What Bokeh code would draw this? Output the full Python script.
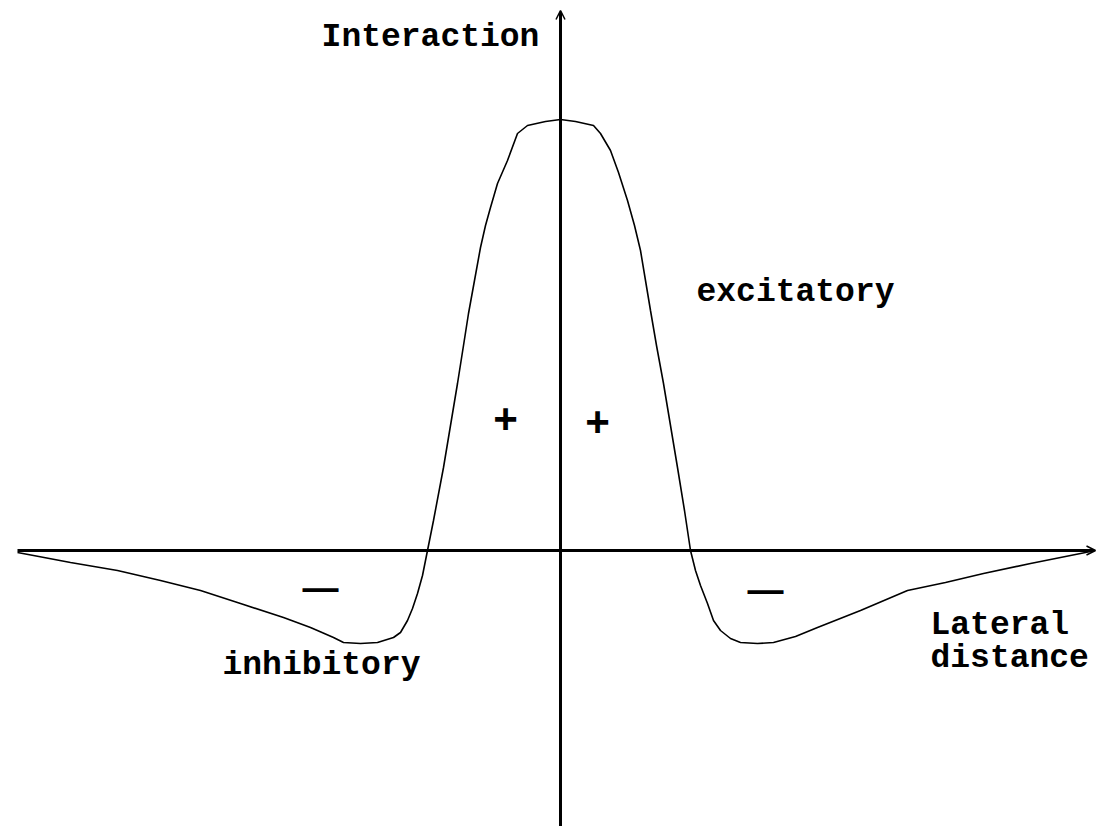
from bokeh.plotting import figure
from bokeh.models import Range1d, Arrow, OpenHead
from bokeh.core.properties import value
from bokeh.embed import file_html
from bokeh.resources import INLINE

# Lateral distance (x) and interaction strength (y) of the "Mexican hat" curve
lateral = [-5.43, -5.27, -4.90, -4.43, -4.00, -3.60, -3.20, -2.77, -2.50, -2.27,
           -2.17, -2.00, -1.83, -1.67, -1.60, -1.53, -1.48, -1.43, -1.38, -1.33,
           -1.27, -1.17, -1.10, -1.03, -0.97, -0.92, -0.86, -0.80, -0.75, -0.70,
           -0.63, -0.53, -0.43, -0.33, -0.15, 0.00,
           0.15, 0.33, 0.40, 0.50, 0.58, 0.67, 0.74, 0.80, 0.85, 0.90,
           0.96, 1.03, 1.10, 1.17, 1.24, 1.30, 1.35, 1.40, 1.47, 1.53,
           1.60, 1.70, 1.80, 1.97, 2.13, 2.35, 2.57, 3.00, 3.47, 3.85,
           4.23, 4.70, 5.20, 5.30]
interaction = [-0.02, -0.05, -0.12, -0.20, -0.30, -0.40, -0.53, -0.67, -0.77, -0.87,
               -0.92, -0.93, -0.92, -0.87, -0.82, -0.70, -0.58, -0.43, -0.25, 0.00,
               0.30, 0.83, 1.25, 1.67, 2.05, 2.37, 2.70, 3.03, 3.25, 3.43,
               3.67, 3.90, 4.17, 4.25, 4.29, 4.31,
               4.29, 4.25, 4.17, 4.00, 3.78, 3.50, 3.25, 3.00, 2.70, 2.40,
               2.05, 1.67, 1.25, 0.83, 0.40, 0.00, -0.20, -0.35, -0.53, -0.70,
               -0.80, -0.88, -0.92, -0.93, -0.92, -0.86, -0.77, -0.60, -0.40, -0.32,
               -0.23, -0.13, -0.03, -0.01]

# Annotation labels
label_text = ["Interaction", "excitatory", "inhibitory"]
label_x = [-1.30, 2.35, -2.39]
label_y = [5.13, 2.58, -1.15]

sign_text = ["+", "+", "\u2014", "\u2014"]
sign_x = [-0.55, 0.37, -2.40, 2.05]
sign_y = [1.32, 1.29, -0.37, -0.39]

axis_text = ["Lateral", "distance"]
axis_x = [3.70, 3.70]
axis_y = [-0.75, -1.08]

W, H = 1105, 826
p = figure(width=W, height=H, output_backend="svg", toolbar_location=None,
           x_range=Range1d(-5.60, 5.45), y_range=Range1d(-2.76, 5.50),
           min_border=0, min_border_left=0, min_border_right=0,
           min_border_top=0, min_border_bottom=0)
p.axis.visible = False
p.grid.visible = False
p.outline_line_color = None
p.background_fill_color = "white"
p.border_fill_color = "white"

# axes with arrows
p.add_layout(Arrow(end=OpenHead(size=9, line_width=1.5, line_color="black"),
                   x_start=0, y_start=-2.80, x_end=0, y_end=5.40,
                   line_width=3, line_color="black"))
p.add_layout(Arrow(end=OpenHead(size=9, line_width=1.5, line_color="black"),
                   x_start=-5.43, y_start=0, x_end=5.35, y_end=0,
                   line_width=3, line_color="black"))

p.line(lateral, interaction, line_color="black", line_width=1.6)

font = value("Liberation Mono")
p.text(x=label_x, y=label_y, text=label_text, text_font=font,
       text_font_size="33px", text_font_style="bold", text_color="black",
       text_align="center", text_baseline="middle")
p.text(x=axis_x, y=axis_y, text=axis_text, text_font=font,
       text_font_size="33px", text_font_style="bold", text_color="black",
       text_align="left", text_baseline="middle")
p.text(x=sign_x[:2], y=sign_y[:2], text=sign_text[:2], text_font=font,
       text_font_size="42px", text_font_style="bold", text_color="black",
       text_align="center", text_baseline="middle")
p.text(x=sign_x[2:], y=sign_y[2:], text=sign_text[2:], text_font=value("Liberation Sans"),
       text_font_size="36px", text_font_style="bold", text_color="black",
       text_align="center", text_baseline="middle")

open("out.html", "w").write(file_html(p, INLINE))
